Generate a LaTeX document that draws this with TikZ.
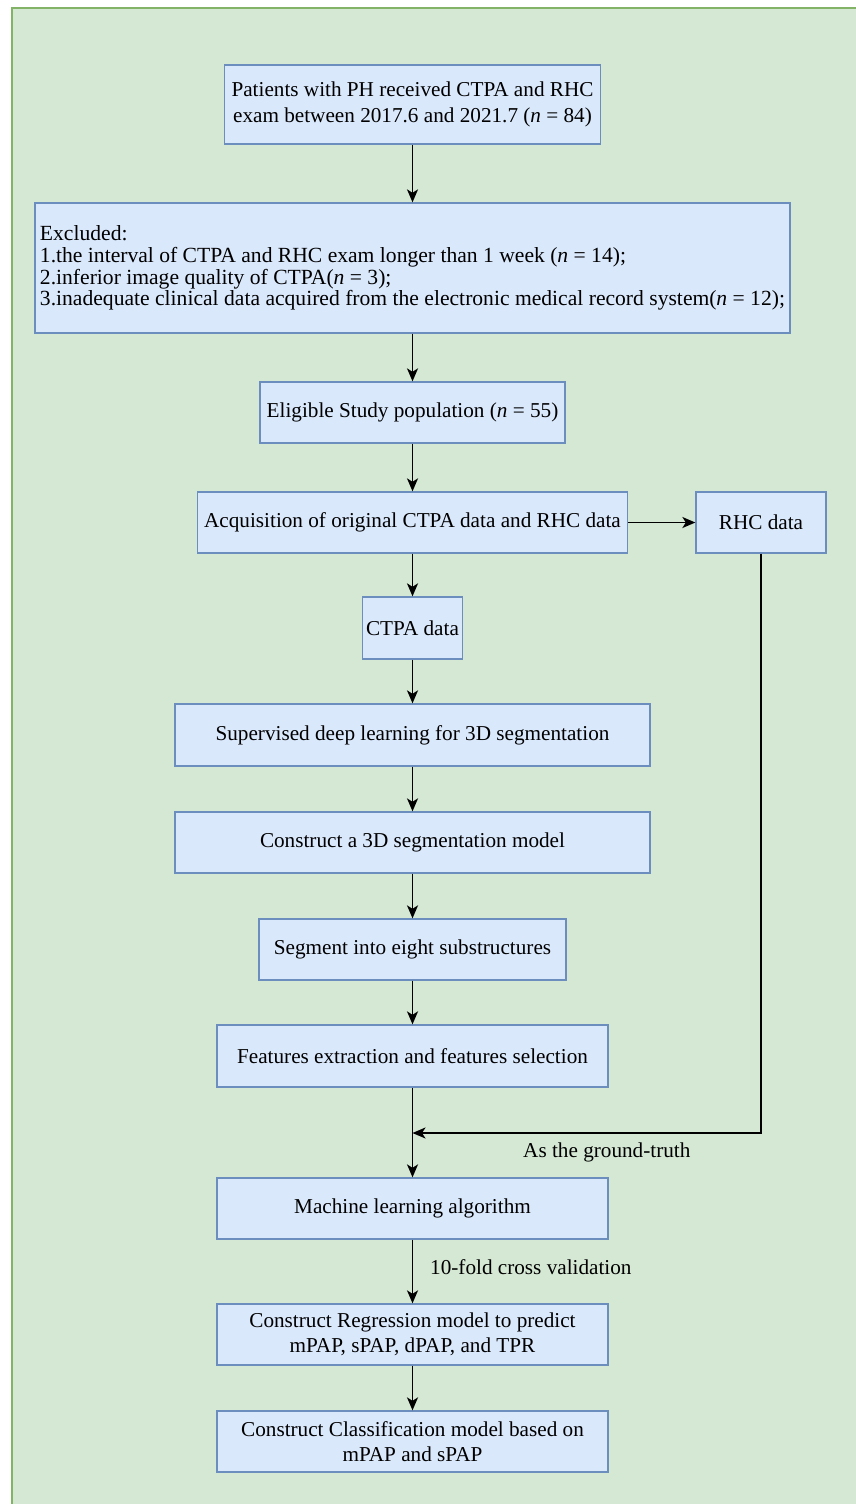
\documentclass[tikz,border=0pt]{standalone}
\usepackage{fontspec}
\setmainfont{Liberation Serif}
\usetikzlibrary{arrows.meta}
\definecolor{panel}{RGB}{213,232,212}
\definecolor{panelline}{RGB}{130,179,102}
\definecolor{stagefill}{RGB}{218,232,252}
\definecolor{stageline}{RGB}{108,142,191}
\newcommand{\nn}{\textit{n}}
\tikzset{
  stage/.style={draw=stageline, fill=stagefill, line width=1.3pt, inner sep=0pt,
    align=center, font=\fontsize{21.2}{25.5}\selectfont},
  flow/.style={draw, line width=1.8pt, -{Stealth[length=13pt,width=11pt,inset=3.5pt]}},
  note/.style={font=\fontsize{21.2}{25.5}\selectfont, inner sep=0pt}
}

\begin{document}
\begin{tikzpicture}[x=1pt,y=-1pt]
\useasboundingbox (0,0) rectangle (856,1504);
\fill[white] (0,0) rectangle (856,1504);
\fill[panel] (12,8) rectangle (856,1504);
\draw[panelline, line width=1.5pt] (12,1504) -- (12,8) -- (856,8);

% main column
\node[stage, minimum width=376pt, minimum height=79pt] (patients) at (412.5,104.5)
  {Patients with PH received CTPA and RHC\\exam between 2017.6 and 2021.7 (\nn{} = 84)};
\node[stage, minimum width=755pt, minimum height=130pt, align=left,
  font=\fontsize{21.6}{21.8}\selectfont] (excluded) at (412.5,268)
  {Excluded:\\
   1.the interval of CTPA and RHC exam longer than 1 week (\nn{} = 14);\\
   2.inferior image quality of CTPA(\nn{} = 3);\\
   3.inadequate clinical data acquired from the electronic medical record system(\nn{} = 12);};
\node[stage, minimum width=305pt, minimum height=61pt] (eligible) at (412.5,412.5)
  {Eligible Study population (\nn{} = 55)};
\node[stage, minimum width=430pt, minimum height=61pt] (acquire) at (412.5,522.5)
  {Acquisition of original CTPA data and RHC data};
\node[stage, minimum width=130pt, minimum height=61pt] (rhc) at (761,522.5) {RHC data};
\node[stage, minimum width=100pt, minimum height=62pt] (ctpa) at (412.5,628) {CTPA data};
\node[stage, minimum width=475pt, minimum height=62pt] (deeplearn) at (412.5,735)
  {Supervised deep learning for 3D segmentation};
\node[stage, minimum width=475pt, minimum height=61pt] (segmodel) at (412.5,842.5)
  {Construct a 3D segmentation model};
\node[stage, minimum width=307pt, minimum height=61pt] (substruct) at (412.5,949.5)
  {Segment into eight substructures};
\node[stage, minimum width=391pt, minimum height=62pt] (features) at (412.5,1056)
  {Features extraction and features selection};
\node[stage, minimum width=391pt, minimum height=61pt] (mlalgo) at (412.5,1208.5)
  {Machine learning algorithm};
\node[stage, minimum width=391pt, minimum height=61pt] (regress) at (412.5,1334.5)
  {Construct Regression model to predict\\mPAP, sPAP, dPAP, and TPR};
\node[stage, minimum width=391pt, minimum height=61pt] (classify) at (412.5,1441.5)
  {Construct Classification model based on\\mPAP and sPAP};

% labels
\coordinate (merge) at (412.5,1133);
\node[note, anchor=west] (gtlabel) at (523,1152) {As the ground-truth};
\node[note, anchor=west] (cvlabel) at (430,1267) {10-fold cross validation};

% connectors
\draw[flow] (patients) -- (excluded);
\draw[flow] (excluded) -- (eligible);
\draw[flow] (eligible) -- (acquire);
\draw[flow] (acquire) -- (rhc);
\draw[flow] (acquire) -- (ctpa);
\draw[flow] (ctpa) -- (deeplearn);
\draw[flow] (deeplearn) -- (segmodel);
\draw[flow] (segmodel) -- (substruct);
\draw[flow] (substruct) -- (features);
\draw[flow] (features) -- (mlalgo);
\draw[flow] (rhc) |- (merge);
\draw[flow] (mlalgo) -- (regress);
\draw[flow] (regress) -- (classify);
\end{tikzpicture}
\end{document}
